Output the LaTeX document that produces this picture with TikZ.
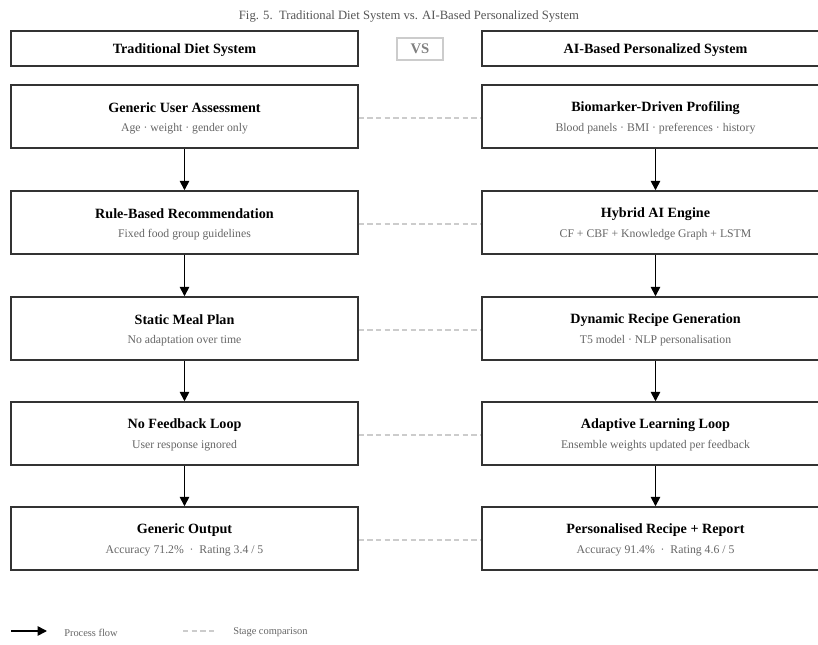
\documentclass[tikz,border=0pt]{standalone}
\usepackage{fontspec}
\setmainfont{Liberation Serif}
\usetikzlibrary{arrows.meta}
\definecolor{boxline}{HTML}{333333}
\definecolor{subtext}{HTML}{666666}
\definecolor{cmpline}{HTML}{CCCCCC}
\definecolor{captext}{HTML}{555555}
\tikzset{
  x=0.75pt, y=-0.75pt,
  stagebox/.style={draw=boxline, line width=1.1pt, fill=white, minimum width=347*0.75pt, minimum height=63*0.75pt, inner sep=0pt},
  headbox/.style={draw=boxline, line width=1.1pt, fill=white, minimum width=347*0.75pt, minimum height=35*0.75pt, inner sep=0pt},
  headtext/.style={font=\fontsize{10.6pt}{12pt}\selectfont\bfseries, text=black, inner sep=0pt},
  stagetitle/.style={font=\fontsize{10.6pt}{12pt}\selectfont\bfseries, text=black, inner sep=0pt},
  stagesub/.style={font=\fontsize{8.8pt}{10pt}\selectfont, text=subtext, inner sep=0pt},
  flow/.style={draw=black, line width=1.2pt, -{Triangle[width=7pt,length=7pt]}},
  compare/.style={draw=cmpline, line width=0.8pt, dash pattern=on 4pt off 2.5pt},
  legendtext/.style={font=\fontsize{7.8pt}{9pt}\selectfont, text=subtext, anchor=west, inner sep=0pt}
}
\begin{document}
\begin{tikzpicture}
\clip (0,0) rectangle (818,645);
\fill[white] (0,0) rectangle (818,645);

% caption
\node[font=\fontsize{9.5pt}{11pt}\selectfont, text=captext, inner sep=0pt] (cap) at (409,16) {Fig. 5.\ \ Traditional Diet System vs. AI-Based Personalized System};

% column headers
\node[headbox] (lh) at (184.5,48.5) {};
\node[headbox] (rh) at (655.5,48.5) {};
\node[headtext] (lht) at (184.5,50) {Traditional Diet System};
\node[headtext] (rht) at (655.5,50) {AI-Based Personalized System};
\node[draw=cmpline, line width=0.8pt, minimum width=46*0.75pt, minimum height=22*0.75pt, inner sep=0pt,
      font=\fontsize{11pt}{12pt}\selectfont\bfseries, text=gray] (vs) at (420,49) {VS};

% stage boxes: left column (traditional), right column (AI-based)
\foreach \i/\yt in {1/85,2/191,3/297,4/402,5/507}{
  \node[stagebox] (l\i) at (184.5,\yt+31.5) {};
  \node[stagebox] (r\i) at (655.5,\yt+31.5) {};
}

% stage texts
\node[stagetitle] (l1t) at (184.5,108) {Generic User Assessment};
\node[stagesub]   (l1s) at (184.5,129) {Age · weight · gender only};
\node[stagetitle] (r1t) at (655.5,108) {Biomarker-Driven Profiling};
\node[stagesub]   (r1s) at (655.5,129) {Blood panels · BMI · preferences · history};

\node[stagetitle] (l2t) at (184.5,214) {Rule-Based Recommendation};
\node[stagesub]   (l2s) at (184.5,235) {Fixed food group guidelines};
\node[stagetitle] (r2t) at (655.5,214) {Hybrid AI Engine};
\node[stagesub]   (r2s) at (655.5,235) {CF + CBF + Knowledge Graph + LSTM};

\node[stagetitle] (l3t) at (184.5,320) {Static Meal Plan};
\node[stagesub]   (l3s) at (184.5,341) {No adaptation over time};
\node[stagetitle] (r3t) at (655.5,320) {Dynamic Recipe Generation};
\node[stagesub]   (r3s) at (655.5,341) {T5 model · NLP personalisation};

\node[stagetitle] (l4t) at (184.5,425) {No Feedback Loop};
\node[stagesub]   (l4s) at (184.5,446) {User response ignored};
\node[stagetitle] (r4t) at (655.5,425) {Adaptive Learning Loop};
\node[stagesub]   (r4s) at (655.5,446) {Ensemble weights updated per feedback};

\node[stagetitle] (l5t) at (184.5,530) {Generic Output};
\node[stagesub]   (l5s) at (184.5,551) {Accuracy 71.2\%\ \ ·\ \ Rating 3.4 / 5};
\node[stagetitle] (r5t) at (655.5,530) {Personalised Recipe + Report};
\node[stagesub]   (r5s) at (655.5,551) {Accuracy 91.4\%\ \ ·\ \ Rating 4.6 / 5};

% process flow arrows
\foreach \a/\b in {1/2,2/3,3/4,4/5}{
  \draw[flow] (l\a.south) -- (l\b.north);
  \draw[flow] (r\a.south) -- (r\b.north);
}

% stage comparison links
\foreach \i in {1,...,5}{
  \draw[compare] ([yshift=-1.5*0.75pt]l\i.east) -- ([yshift=-1.5*0.75pt]r\i.west);
}

% legend
\coordinate (fa) at (11,631);
\coordinate (fb) at (47,631);
\draw[flow] (fa) -- (fb);
\node[legendtext] (flowlbl) at (64,633) {Process flow};
\coordinate (ca) at (183,631);
\coordinate (cb) at (216,631);
\draw[compare] (ca) -- (cb);
\node[legendtext] (cmplbl) at (233,632) {Stage comparison};
\end{tikzpicture}
\end{document}
